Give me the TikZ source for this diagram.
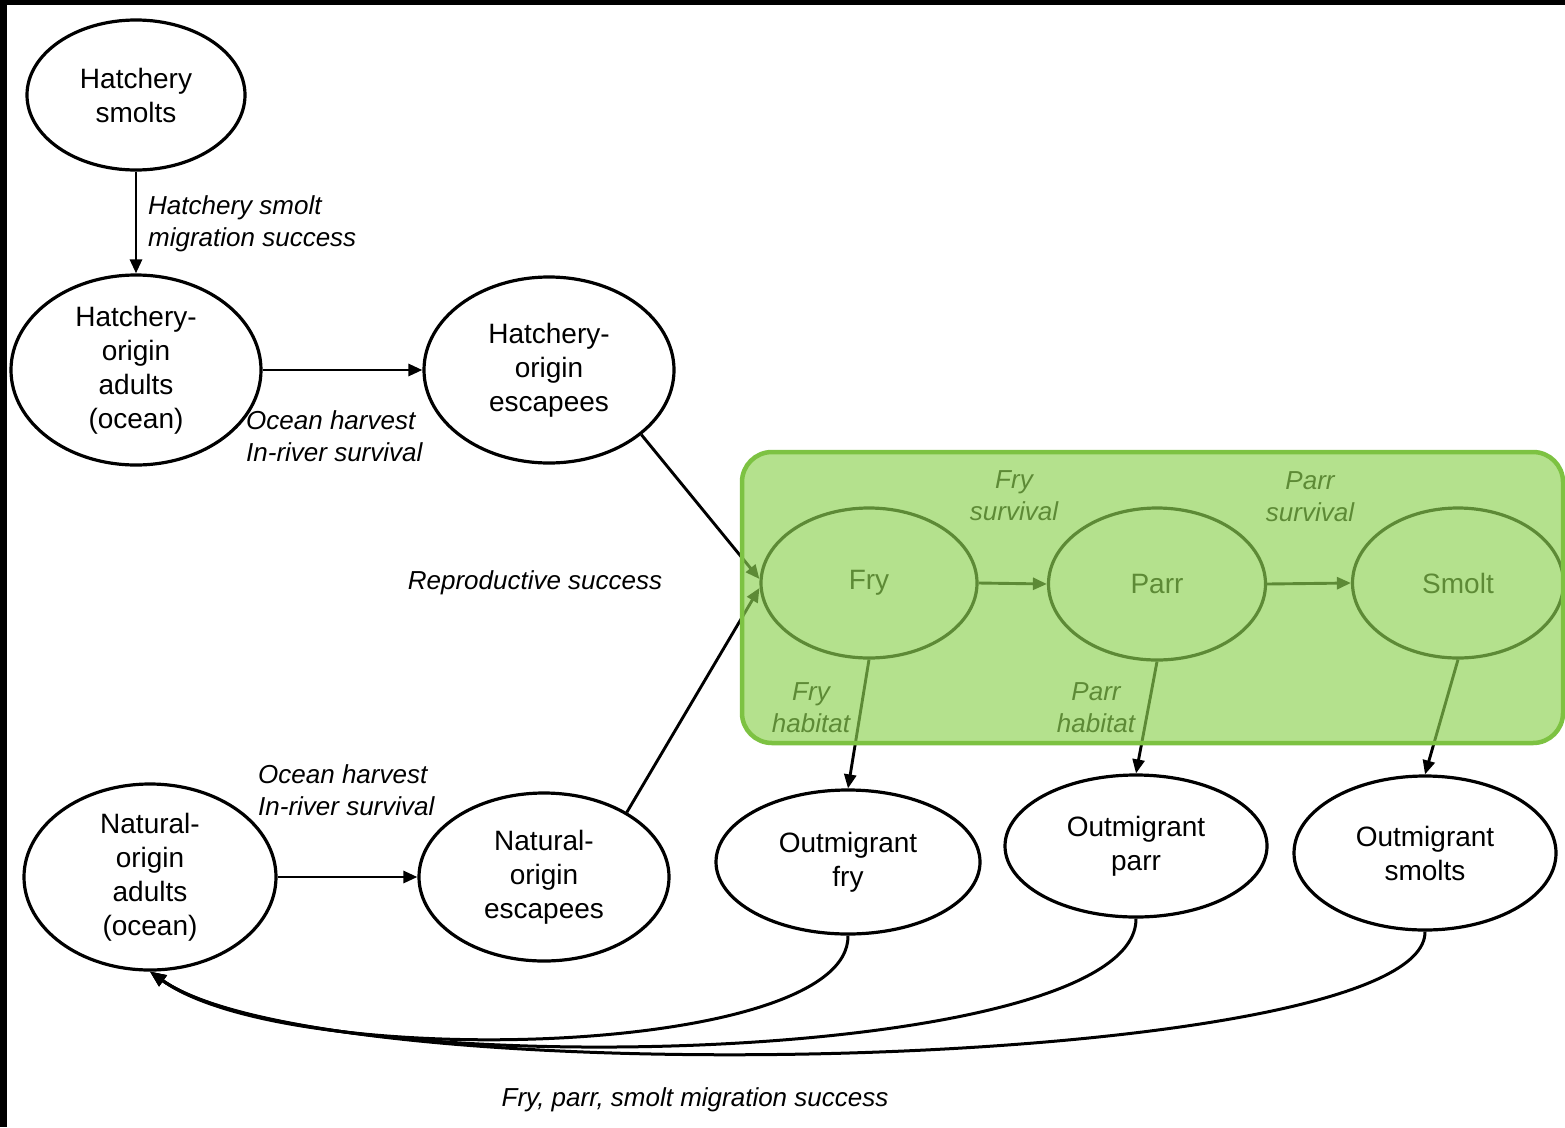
\documentclass[tikz,border=0pt]{standalone}
\usepackage{fontspec}
\setmainfont{Liberation Sans}
\usetikzlibrary{shapes.geometric,arrows.meta,calc}
\definecolor{boxfill}{RGB}{142,210,82}
\definecolor{boxline}{RGB}{125,194,66}
\begin{document}
\begin{tikzpicture}[x=1pt,y=-1pt,
  stage/.style={ellipse, draw, line width=3.2pt, inner sep=0pt, align=center,
    font=\fontsize{28}{34}\selectfont},
  lbl/.style={font=\fontsize{26}{32}\selectfont\itshape, inner sep=0pt},
  flow/.style={line width=2.9pt, -{Triangle[length=14pt,width=12pt]}},
  ret/.style={line width=3pt, -{Triangle[length=16pt,width=13pt]}},
]
\fill[black] (0,0) rectangle (1565,1127);
\fill[white] (7,5) rectangle (1565,1127);
\clip (0,0) rectangle (1565,1127);

% stages
\node[stage, minimum width=218pt, minimum height=150pt] (hs) at (136,95) {Hatchery\\smolts};
\node[stage, minimum width=250pt, minimum height=190pt] (had) at (136,370) {Hatchery-\\origin\\adults\\(ocean)};
\node[stage, minimum width=250pt, minimum height=186pt] (hesc) at (549,370) {Hatchery-\\origin\\escapees};
\node[stage, minimum width=252pt, minimum height=186pt] (nad) at (150,877) {Natural-\\origin\\adults\\(ocean)};
\node[stage, minimum width=250pt, minimum height=168pt] (nesc) at (544,877) {Natural-\\origin\\escapees};
\node[stage, minimum width=216pt, minimum height=150pt] (fry) at (869,583) {Fry};
\node[stage, minimum width=217pt, minimum height=152pt] (parr) at (1157,584) {Parr};
\node[stage, minimum width=211pt, minimum height=150pt] (smolt) at (1458,583) {Smolt};
\node[stage, minimum width=264pt, minimum height=144pt] (ofry) at (848,862) {Outmigrant\\fry};
\node[stage, minimum width=262pt, minimum height=142pt] (oparr) at (1136,846) {Outmigrant\\parr};
\node[stage, minimum width=262pt, minimum height=154pt] (osm) at (1425,853) {Outmigrant\\smolts};

% labels
\node[lbl, anchor=west, align=left] (lhs) at (148,224) {Hatchery smolt\\migration success};
\node[lbl, anchor=west, align=left] (lho) at (246,436) {Ocean harvest\\In-river survival};
\node[lbl, anchor=west, align=left] (lno) at (258,790) {Ocean harvest\\In-river survival};
\node[lbl] (lrep) at (535,583) {Reproductive success};
\node[lbl, align=center] (lfs) at (1014,496) {Fry\\survival};
\node[lbl, align=center] (lps) at (1310,497) {Parr\\survival};
\node[lbl, align=center] (lfh) at (811,708) {Fry\\habitat};
\node[lbl, align=center] (lph) at (1096,708) {Parr\\habitat};
\node[lbl] (lmig) at (695,1100) {Fry, parr, smolt migration success};

% connectors
\draw[flow] (hs.south) -- (had.north);
\draw[flow] (had.east) -- (hesc.west);
\draw[flow] (nad.east) -- (nesc.west);
\draw[flow] (hesc.-35) -- ($(fry.west)+(0,-4)$);
\draw[flow] (nesc.38) -- ($(fry.west)+(0,5)$);
\draw[flow] (fry.east) -- (parr.west);
\draw[flow] (parr.east) -- (smolt.west);
\draw[flow] (fry.south) -- (ofry.north);
\draw[flow] (parr.south) -- (oparr.north);
\draw[flow] (smolt.south) -- (osm.north);

\draw[ret] (ofry.south) .. controls (850,1058) and (290,1072) .. (nad.south);
\draw[ret] (oparr.south) .. controls (1137,1068) and (310,1085) .. (nad.south);
\draw[ret] (osm.south) .. controls (1427,1072) and (330,1098) .. (nad.south);

% green box overlay
\fill[boxfill, fill opacity=0.66, rounded corners=30pt] (742,452) rectangle (1563,743);
\draw[boxline, line width=4.5pt, rounded corners=30pt] (742,452) rectangle (1563,743);
\end{tikzpicture}
\end{document}
